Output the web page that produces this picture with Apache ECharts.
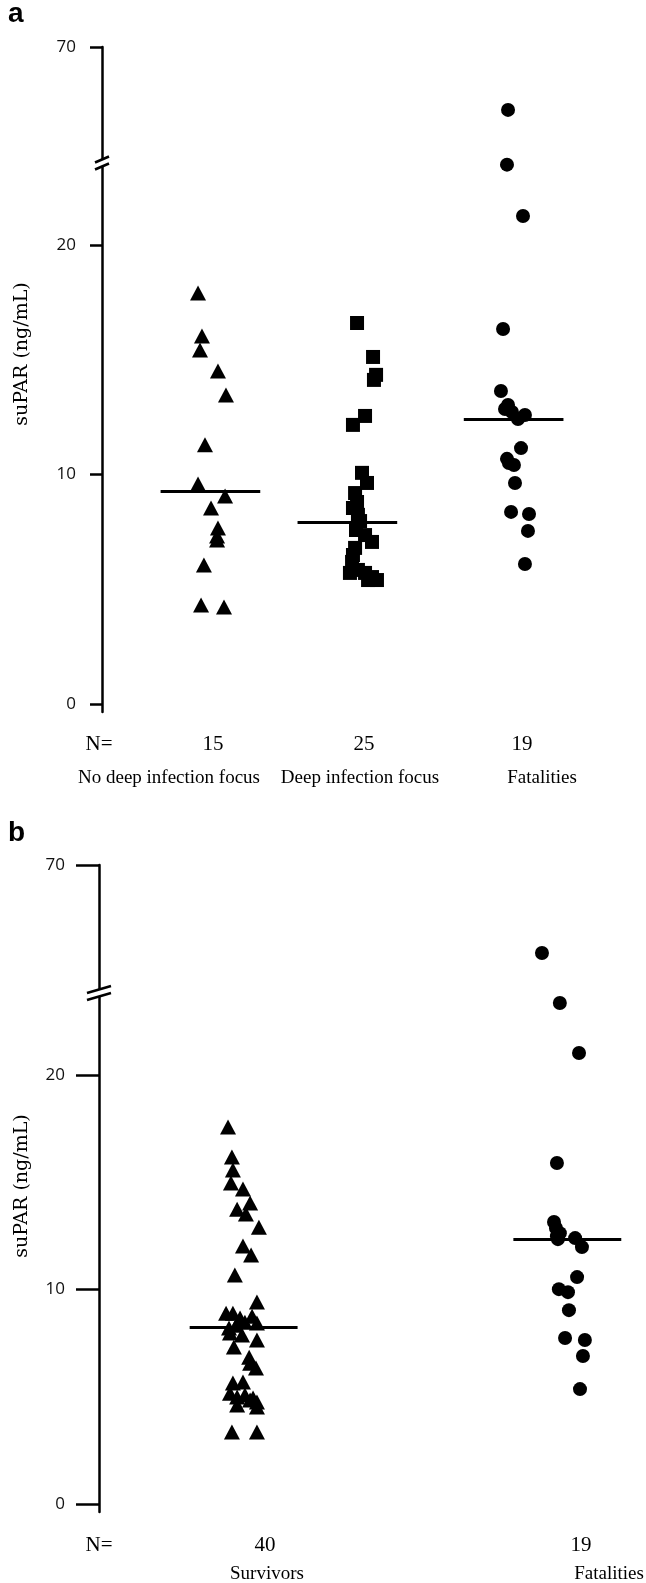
<!DOCTYPE html>
<html><head><meta charset="utf-8">
<script src="https://cdn.jsdelivr.net/npm/echarts@6/dist/echarts.min.js"></script>
<style>html,body{margin:0;padding:0;background:#fff}#c{width:646px;height:1583px}</style>
</head><body><div id="c"></div>
<script>
// ---------------- DATA ----------------
// Panel a
const aGroups = ['No deep infection focus', 'Deep infection focus', 'Fatalities'];
const aCounts = ['15', '25', '19'];
const aNoDeepX   = [0.936,0.962,0.949,1.068,1.121,0.982,0.936,1.115,1.022,1.068,1.062,0.975,0.956,1.108,1.062];
const aNoDeepVal = [17.91,16.03,15.42,14.51,13.46,11.29,9.59,9.06,8.54,7.67,7.32,6.06,4.31,4.23,7.15];
const aDeepX   = [1.989,2.095,2.115,2.101,2.042,1.962,2.022,2.055,1.976,1.989,1.962,1.995,2.009,2.088,1.962,1.976,1.942,2.042,2.062,2.121,1.956,1.995,2.088,1.982,2.042];
const aDeepVal = [16.60,15.12,14.34,14.12,12.55,12.16,10.07,9.63,9.19,8.80,8.54,8.24,7.97,7.06,6.49,6.80,5.71,5.71,5.40,5.40,6.19,5.84,5.53,7.58,7.36];
const aFatalX   = [2.989,2.982,3.088,2.956,2.942,2.969,3.101,3.015,2.989,3.055,3.075,2.982,3.028,3.035,3.009,3.128,3.121,3.101,2.995];
const aFatalVal = [45.6,23.5,21.26,16.34,13.64,12.85,12.59,12.72,13.03,12.42,11.15,10.68,10.41,9.63,8.37,8.28,7.54,6.10,10.50];
const aMedians = [9.28, 7.93, 12.42];
const aMedianCenters = [1.018, 1.925, 3.026];

// Panel b
const bGroups = ['Survivors', 'Fatalities'];
const bCounts = ['40', '19'];
const bSurvX = [0.947,0.959,0.962,0.956,0.993,1.015,0.975,1.002,1.042,0.993,1.018,0.968,1.036,0.941,0.962,0.999,1.036,0.984,1.021,0.972,
                0.950,0.953,0.990,1.036,0.965,1.012,1.015,1.033,0.962,0.993,0.953,0.975,0.999,1.024,1.036,0.975,1.036,1.015,0.959,1.036];
const bSurvVal = [17.58,16.18,15.57,14.97,14.69,14.03,13.75,13.52,12.91,12.03,11.61,10.68,9.42,8.90,8.90,8.48,8.44,8.67,8.76,8.34,
                  8.21,7.97,7.88,7.65,7.32,6.85,6.57,6.34,5.64,5.69,5.17,4.99,5.08,4.94,4.76,4.62,4.52,4.85,3.36,3.36];
const bFatalX   = [1.913,1.968,2.027,1.959,1.950,1.962,2.036,2.021,1.965,1.993,1.996,1.984,2.045,2.039,2.030,1.956,1.968,1.959,2.015];
const bFatalVal = [39.06,23.36,21.03,15.90,13.15,12.35,11.98,10.58,10.02,9.88,9.04,7.74,7.65,6.90,5.36,12.87,12.63,12.49,12.40];
const bMedians = [8.25, 12.35];
const bMedianCenters = [0.995, 1.991];

// Axis ticks
const lowerTicks = [0, 10, 20];
const upperTicks = [70];
const yName = 'suPAR (ng/mL)';
const nLabel = 'N=';

// ---------------- LAYOUT ----------------
const L = {
  a: { left: 102, xMin: 0.3, xMax: 3.7, pxPerX: 151,
       upTop: 47, upH: 116, upMin: 25, upMax: 70,
       loBottom: 712, loMin: -0.35, loMax: 23.6, pxPerY: 22.95,
       tickLen: 12, labelMargin: 26, medHalf: 0.33,
       nY: 744, catY: 778, nX: [99, 213, 364, 522], catX: [169, 360, 542],
       nameX: 22, nameY: 354, letterY: 28, brk: {w: 7, d: 3, s: 3.5} },
  b: { left: 99, xMin: 0.55, xMax: 2.2, pxPerX: 325,
       upTop: 865, upH: 128, upMin: 25, upMax: 70,
       loBottom: 1512, loMin: -0.37, loMax: 23.8, pxPerY: 21.45,
       tickLen: 23, labelMargin: 34, medHalf: 0.166,
       nY: 1545, catY: 1574, nX: [99, 265, 581], catX: [267, 609],
       nameX: 22, nameY: 1186, letterY: 847, brk: {w: 12, d: 3.5, s: 3.5} }
};

const chart = echarts.init(document.getElementById('c'), null, {renderer: 'canvas'});
const grids = [], xAxes = [], yAxes = [], series = [], graphics = [];
const tickFont = 'Open Sans';

function addPanel(p) {
  const width = (p.xMax - p.xMin) * p.pxPerX;
  const loH = (p.loMax - p.loMin) * p.pxPerY;
  const loTop = p.loBottom - loH;
  const gi = grids.length;
  grids.push({left: p.left, width: width, top: p.upTop, height: p.upH});
  grids.push({left: p.left, width: width, top: loTop, height: loH});
  [0, 1].forEach(k => {
    xAxes.push({type: 'value', gridIndex: gi + k, min: p.xMin, max: p.xMax, show: false});
  });
  const axisCommon = {
    type: 'value', position: 'left',
    axisLine: {show: true, onZero: false, lineStyle: {color: '#000', width: 2.5}},
    axisTick: {show: true, inside: false, length: p.tickLen, lineStyle: {color: '#000', width: 2.5}},
    axisLabel: {show: true, margin: p.labelMargin, color: '#111', fontFamily: tickFont, fontSize: 17},
    splitLine: {show: false}
  };
  yAxes.push(echarts.util.merge({gridIndex: gi, min: p.upMin, max: p.upMax,
    axisTick: {customValues: upperTicks}, axisLabel: {customValues: upperTicks}}, axisCommon, false));
  yAxes.push(echarts.util.merge({gridIndex: gi + 1, min: p.loMin, max: p.loMax,
    axisTick: {customValues: lowerTicks}, axisLabel: {customValues: lowerTicks}}, axisCommon, false));
  return {gi, loTop};
}

function medLine(center, half, m) {
  return {
    silent: true, symbol: 'none', animation: false,
    label: {show: false},
    lineStyle: {color: '#000', width: 3, type: 'solid', opacity: 1},
    emphasis: {disabled: true},
    data: [[{coord: [center - half, m]}, {coord: [center + half, m]}]]
  };
}

function addGroup(xs, vals, p, ax, symbol, size, median, center) {
  const lower = [], upper = [];
  xs.forEach((x, i) => { (vals[i] > p.loMax ? upper : lower).push([x, vals[i]]); });
  const style = {color: '#000', opacity: 1};
  series.push({type: 'scatter', xAxisIndex: ax + 1, yAxisIndex: ax + 1, data: lower, symbol, symbolSize: size,
    itemStyle: style, clip: false, silent: true,
    markLine: medLine(center, p.medHalf, median)});
  if (upper.length) series.push({type: 'scatter', xAxisIndex: ax, yAxisIndex: ax, data: upper, symbol, symbolSize: size,
    itemStyle: style, clip: false, silent: true});
}

const A = addPanel(L.a);
const B = addPanel(L.b);

addGroup(aNoDeepX, aNoDeepVal, L.a, A.gi, 'triangle', [16, 15], aMedians[0], aMedianCenters[0]);
addGroup(aDeepX, aDeepVal, L.a, A.gi, 'rect', 14, aMedians[1], aMedianCenters[1]);
addGroup(aFatalX, aFatalVal, L.a, A.gi, 'circle', 14, aMedians[2], aMedianCenters[2]);
addGroup(bSurvX, bSurvVal, L.b, B.gi, 'triangle', [16, 15], bMedians[0], bMedianCenters[0]);
addGroup(bFatalX, bFatalVal, L.b, B.gi, 'circle', 14, bMedians[1], bMedianCenters[1]);

// texts
function panelTexts(p, letter, counts, groups, breakY) {
  graphics.push({type: 'text', x: 8, y: p.letterY, style: {text: letter, font: 'bold 28px "Liberation Sans"', fill: '#000', align: 'left', verticalAlign: 'bottom'}});
  graphics.push({type: 'text', x: p.nameX, y: p.nameY, rotation: Math.PI / 2,
    style: {text: yName, font: '19px "DejaVu Serif"', fill: '#000', align: 'center', verticalAlign: 'middle'}});
  const nTexts = [nLabel].concat(counts);
  nTexts.forEach((t, i) => graphics.push({type: 'text', x: p.nX[i], y: p.nY,
    style: {text: t, font: '21px "Liberation Serif"', fill: '#000', align: 'center', verticalAlign: 'middle'}}));
  groups.forEach((g, i) => graphics.push({type: 'text', x: p.catX[i], y: p.catY,
    style: {text: g, font: '19px "Liberation Serif"', fill: '#000', align: 'center', verticalAlign: 'middle'}}));
  // axis break mark
  const ax = p.left, by = breakY, w = p.brk.w, d = p.brk.d, s = p.brk.s;
  graphics.push({type: 'polygon', z: 100, shape: {points: [[ax - w, by - s + d], [ax + w, by - s - d], [ax + w, by + s - d], [ax - w, by + s + d]]},
    style: {fill: '#fff'}});
  [-s, s].forEach(o => graphics.push({type: 'line', z: 101,
    shape: {x1: ax - w, y1: by + o + d, x2: ax + w, y2: by + o - d}, style: {stroke: '#000', lineWidth: 2.5}}));
}
panelTexts(L.a, 'a', aCounts, aGroups, L.a.upTop + L.a.upH);
panelTexts(L.b, 'b', bCounts, bGroups, L.b.upTop + L.b.upH);

chart.setOption({
  animation: false,
  backgroundColor: '#fff',
  grid: grids, xAxis: xAxes, yAxis: yAxes, series: series,
  graphic: {elements: graphics}
});
</script></body></html>
